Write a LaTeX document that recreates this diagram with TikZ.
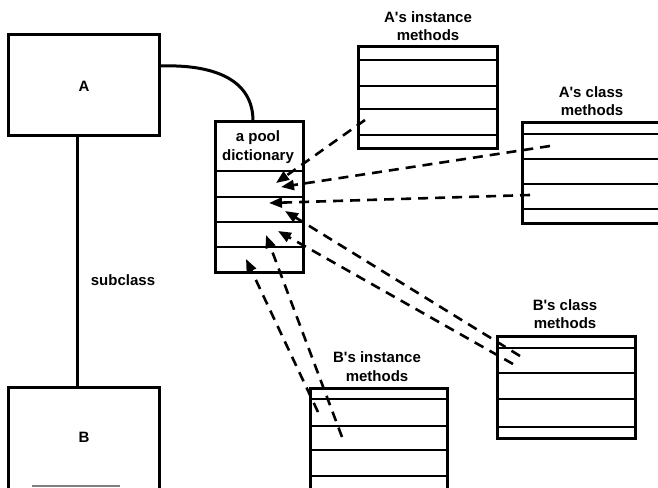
\documentclass[tikz,border=0pt]{standalone}
\usepackage{fontspec}
\setmainfont{Liberation Sans}
\usetikzlibrary{arrows.meta}
\begin{document}
\begin{tikzpicture}[x=1pt,y=-1pt,
  frame/.style={draw=black,line width=3pt},
  rowline/.style={draw=black,line width=2.6pt},
  lbl/.style={font=\fontsize{15}{18}\selectfont\bfseries,inner sep=0pt,anchor=base},
  ptr/.style={draw=black,line width=2.6pt,dash pattern=on 10pt off 7pt,
    -{Triangle[length=13pt,width=10pt]}},
  link/.style={draw=black,line width=3pt}]
\clip (0,0) rectangle (658,487);
\fill[white] (0,0) rectangle (658,487);

% class A and B
\draw[frame] (8,35) rectangle (159,135);
\node[lbl] (Alab) at (84,92) {A};
\coordinate (Abot) at (77,135);
\coordinate (Aright) at (159,66);
\draw[frame] (8,387) rectangle (159,545);
\node[lbl] (Blab) at (84,442) {B};
\coordinate (Btop) at (77,387);
\draw[draw=gray,line width=1.2pt] (32,486) -- (120,486);
\draw[link] (Abot) -- (Btop);
\node[lbl] (sub) at (123,285) {subclass};

% pool dictionary
\draw[frame] (215,121) rectangle (303,272);
\foreach \y in {171,197,222,247} \draw[rowline] (215,\y) -- (303,\y);
\node[lbl] (pool1) at (258,141) {a pool};
\node[lbl] (pool2) at (258,160) {dictionary};
\coordinate (Dtop) at (253,121);
\draw[link] (Aright) .. controls (215,64) and (253,80) .. (Dtop);

% A's instance methods
\draw[frame] (358,47) rectangle (497,148);
\foreach \y in {60,86,109,135} \draw[rowline] (358,\y) -- (497,\y);
\node[lbl] (ai1) at (428,23) {A\textquotesingle s instance};
\node[lbl] (ai2) at (428,41) {methods};

% A's class methods
\draw[frame] (522,122) rectangle (700,223);
\foreach \y in {134,159,184,209} \draw[rowline] (522,\y) -- (700,\y);
\node[lbl] (ac1) at (591,97) {A\textquotesingle s class};
\node[lbl] (ac2) at (592,115) {methods};

% B's class methods
\draw[frame] (497,336) rectangle (635,438);
\foreach \y in {348,373,399,427} \draw[rowline] (497,\y) -- (635,\y);
\node[lbl] (bc1) at (565,310) {B\textquotesingle s class};
\node[lbl] (bc2) at (565,328) {methods};

% B's instance methods
\draw[frame] (310,388) rectangle (447,540);
\foreach \y in {399,426,450,476,500} \draw[rowline] (310,\y) -- (447,\y);
\node[lbl] (bi1) at (377,362) {B\textquotesingle s instance};
\node[lbl] (bi2) at (377,381) {methods};

% pointers
\coordinate (s1) at (365,120); \coordinate (t1) at (276,183);
\coordinate (s2) at (550,146); \coordinate (t2) at (281,187);
\coordinate (s3) at (530,195); \coordinate (t3) at (269,203);
\coordinate (s4) at (520,356); \coordinate (t4) at (285,211);
\coordinate (s5) at (513,364); \coordinate (t5) at (278,231);
\coordinate (s6) at (318,412); \coordinate (t6) at (246,259);
\coordinate (s7) at (342,437); \coordinate (t7) at (266,235);
\foreach \i in {1,...,7} \draw[ptr] (s\i) -- (t\i);
\end{tikzpicture}
\end{document}
